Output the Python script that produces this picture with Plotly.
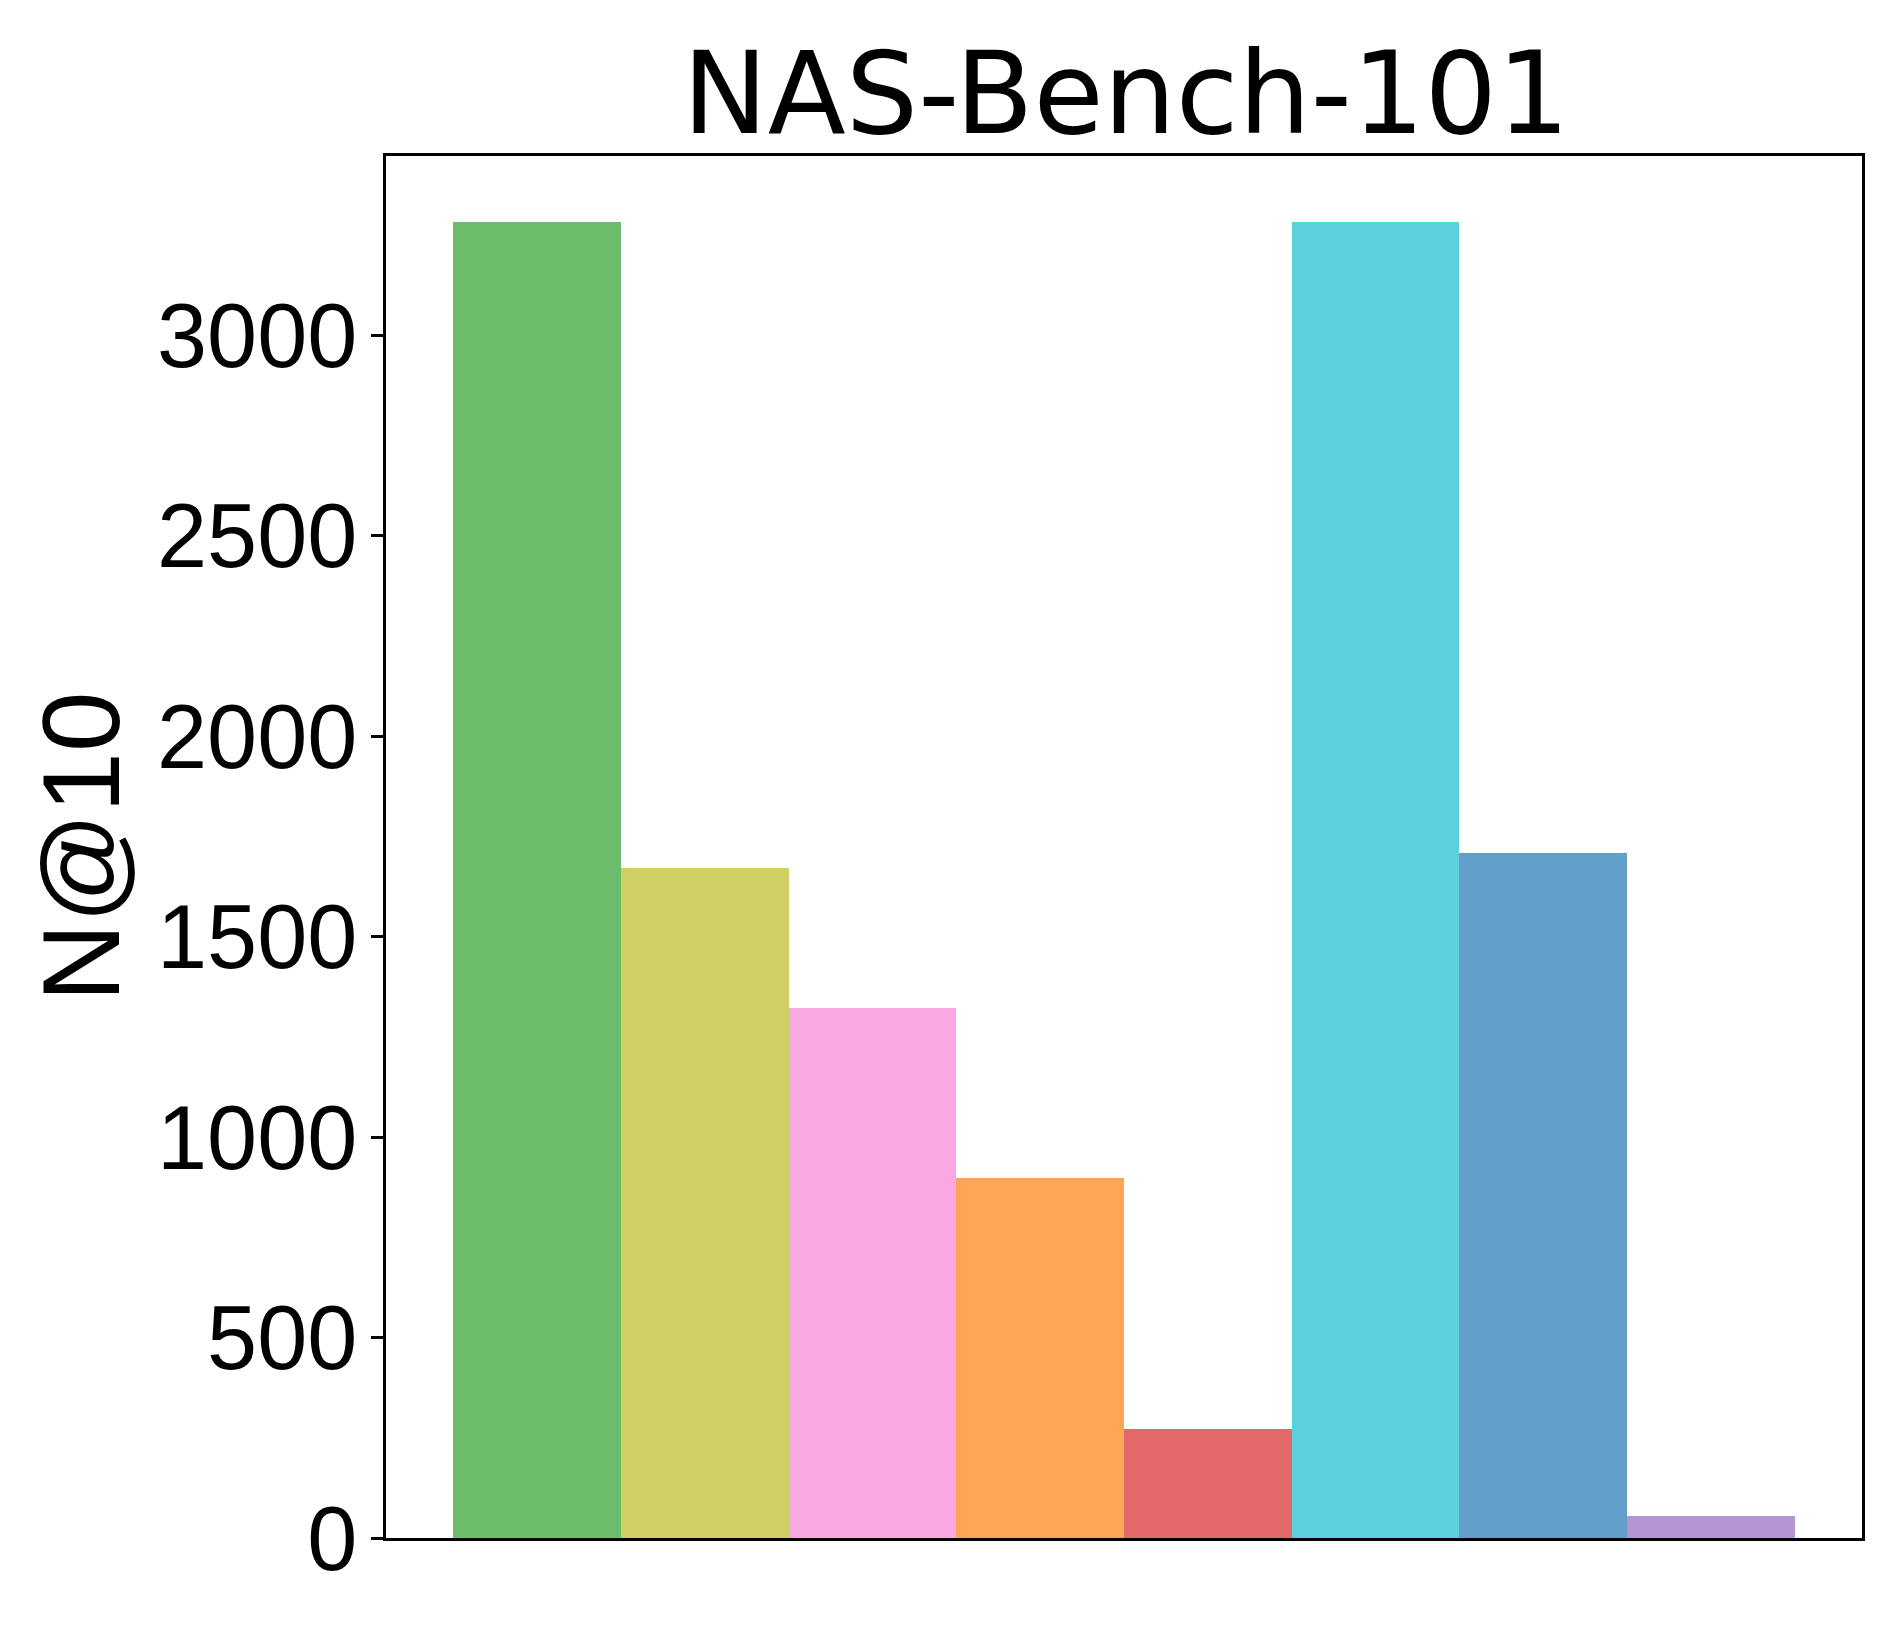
import plotly.graph_objects as go

categories = ["M1", "M2", "M3", "M4", "M5", "M6", "M7", "M8"]
values = [3283, 1671, 1322, 898, 271, 3283, 1709, 56]
colors = ["#6bbd6b", "#d0d164", "#f9a8e1", "#ffa556", "#e26869", "#5dd0dd", "#62a0ca", "#b495d1"]
y_ticks = [0, 500, 1000, 1500, 2000, 2500, 3000]
title_text = "NAS-Bench-101"
y_label = "N@10"

# page body has an 8px margin; compensate so the plot lands where the reference's is
OFF = 8
W, H = 1903 - 2 * OFF, 1631 - 2 * OFF
L, T = 386 - OFF, 156 - OFF
R = W - (1862 - OFF)
B = H - (1538 - OFF)

fig = go.Figure()
fig.add_trace(go.Bar(
    x=list(range(len(categories))),
    y=values,
    marker=dict(color=colors, line=dict(width=0)),
    width=1.0,
    hovertext=categories,
    showlegend=False,
))

plot_w = W - L - R
label_center_px = 81 - OFF
fig.add_annotation(
    text=y_label, textangle=-90,
    xref="paper", yref="paper",
    x=(label_center_px - L) / plot_w, y=0.5,
    xanchor="center", yanchor="middle",
    showarrow=False,
    font=dict(family="Liberation Sans, Arial, sans-serif", size=109, color="black"),
)

fig.update_layout(
    width=W, height=H, autosize=False,
    margin=dict(l=L, r=R, t=T, b=B, pad=0),
    paper_bgcolor="white", plot_bgcolor="white",
    bargap=0,
    title=dict(
        text=title_text,
        font=dict(family="DejaVu Sans, sans-serif", size=114, color="black"),
        x=(L + plot_w / 2 + 2) / W, xanchor="center",
        y=1 - (93 - OFF) / H, yanchor="middle", yref="container",
    ),
    xaxis=dict(
        range=[-0.9, 7.9],
        showticklabels=False, ticks="",
        showgrid=False, zeroline=False,
        showline=True, mirror=True, linecolor="black", linewidth=2.5,
    ),
    yaxis=dict(
        range=[0, 3283 * 1.05],
        tickvals=y_ticks, ticktext=[str(v) for v in y_ticks],
        ticks="outside", ticklen=12, tickwidth=2.5, tickcolor="black",
        ticklabelstandoff=-4,
        tickfont=dict(family="Liberation Sans, Arial, sans-serif", size=90, color="black"),
        showgrid=False, zeroline=False,
        showline=True, mirror=True, linecolor="black", linewidth=2.5,
    ),
)

fig.write_html("out.html")
